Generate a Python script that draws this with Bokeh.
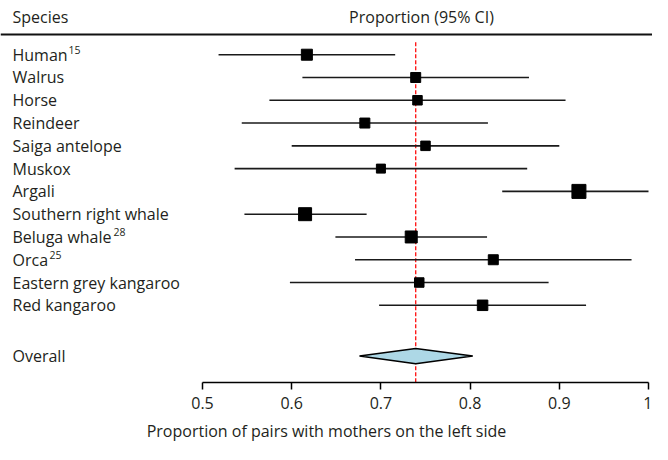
from bokeh.plotting import figure
from bokeh.models import Range1d, LinearAxis, FixedTicker, ColumnDataSource, Span
from bokeh.core.properties import value
from bokeh.embed import file_html
from bokeh.resources import INLINE

# ---- data ----
species = ["Human", "Walrus", "Horse", "Reindeer", "Saiga antelope", "Muskox",
           "Argali", "Southern right whale", "Beluga whale", "Orca",
           "Eastern grey kangaroo", "Red kangaroo"]
refs = ["15", "", "", "", "", "", "", "", "28", "25", "", ""]
estimate = [0.617, 0.739, 0.741, 0.682, 0.750, 0.700, 0.922, 0.615, 0.734, 0.826, 0.743, 0.814]
ci_low = [0.518, 0.612, 0.575, 0.544, 0.600, 0.536, 0.836, 0.547, 0.649, 0.671, 0.598, 0.698]
ci_high = [0.716, 0.866, 0.907, 0.820, 0.900, 0.864, 1.000, 0.684, 0.819, 0.981, 0.888, 0.930]
overall_label = "Overall"
overall_est = 0.739
overall_low = 0.676
overall_high = 0.803
ticks = [0.5, 0.6, 0.7, 0.8, 0.9, 1.0]
tick_labels = ["0.5", "0.6", "0.7", "0.8", "0.9", "1"]
x_title = "Proportion of pairs with mothers on the left side"
header_left = "Species"
header_right = "Proportion (95% CI)"

# ---- style ----
FONT = "Open Sans"
FS = "16px"
TXT = "#231f20"
marker_px = [11, 10, 9.5, 10, 9.5, 9, 14, 13, 12, 10, 9.5, 10.5]
sup_offset = [56, 0, 0, 0, 0, 0, 0, 0, 101, 37, 0, 0]

rows = list(range(len(species)))
overall_row = 13.23
header_row = -1.65
rule_row = -0.885
ref_top_row = -0.55

W, H = 652, 444
FRAME_H = 384
PX_PER_UNIT = 892
x0 = 0.5 - 202 / PX_PER_UNIT
x1 = x0 + W / PX_PER_UNIT
row_px = 22.9
first_row_px = 54.5
y_top = -first_row_px / row_px
y_bot = (FRAME_H - first_row_px) / row_px

p = figure(width=W, height=H, output_backend="svg", toolbar_location=None,
           x_range=Range1d(x0, x1), y_range=Range1d(y_bot, y_top),
           x_axis_location=None, y_axis_location=None,
           min_border_left=0, min_border_right=0, min_border_top=0,
           min_border_bottom=H - FRAME_H)
p.outline_line_color = None
p.grid.visible = False
p.background_fill_color = "white"
p.border_fill_color = "white"

label_x = x0 + 12 / PX_PER_UNIT

src = ColumnDataSource(dict(name=species, ref=refs, est=estimate, lo=ci_low,
                            hi=ci_high, row=rows, size=marker_px, soff=sup_offset,
                            lx=[label_x] * len(species)))

# header
p.text(x=[label_x], y=[header_row], text=[header_left], text_font=value(FONT),
       text_font_size=FS, text_color=TXT, text_baseline="middle", text_align="left")
p.text(x=[0.7455], y=[header_row], text=[header_right], text_font=value(FONT),
       text_font_size=FS, text_color=TXT, text_baseline="middle", text_align="center")
p.add_layout(Span(location=rule_row, dimension="width", line_color="#111", line_width=2))

# reference line at pooled estimate
p.segment(x0=[overall_est], x1=[overall_est], y0=[ref_top_row], y1=[y_bot],
          line_color="#ff1a1a", line_width=1.4, line_dash="4 2")

# CIs and points
p.segment(x0="lo", x1="hi", y0="row", y1="row", source=src, line_color="#1a1a1a", line_width=1.6)
p.scatter(x="est", y="row", size="size", marker="square", source=src,
          fill_color="black", line_color="black")

# labels
p.text(x="lx", y="row", text="name", source=src, text_font=value(FONT),
       text_font_size=FS, text_color=TXT, text_baseline="middle", text_align="left")
p.text(x="lx", y="row", text="ref", source=src, text_font=value(FONT),
       text_font_size="10.5px", text_color=TXT, text_baseline="middle", text_align="left",
       x_offset="soff", y_offset=-5)

# overall diamond
dh = 7.6 / row_px
p.patch(x=[overall_low, overall_est, overall_high, overall_est],
        y=[overall_row, overall_row - dh, overall_row, overall_row + dh],
        fill_color="#add8e6", line_color="black", line_width=1.5)
p.text(x=[label_x], y=[overall_row], text=[overall_label], text_font=value(FONT),
       text_font_size=FS, text_color=TXT, text_baseline="middle", text_align="left")

# x axis
ax = LinearAxis(bounds=(0.5, 1.0), ticker=FixedTicker(ticks=ticks),
                major_label_overrides={t: l for t, l in zip(ticks, tick_labels)})
ax.axis_label = x_title
ax.axis_label_text_font = FONT
ax.axis_label_text_font_size = FS
ax.axis_label_text_font_style = "normal"
ax.axis_label_text_color = TXT
ax.axis_label_standoff = 8
ax.major_label_text_font = FONT
ax.major_label_text_font_size = FS
ax.major_label_text_color = TXT
ax.major_label_standoff = 7
ax.axis_line_color = "black"
ax.axis_line_width = 1.5
ax.major_tick_line_color = "black"
ax.major_tick_line_width = 1.5
ax.major_tick_in = 0
ax.major_tick_out = 7
ax.minor_tick_line_color = None
p.add_layout(ax, "below")

open("out.html", "w").write(file_html(p, INLINE))
